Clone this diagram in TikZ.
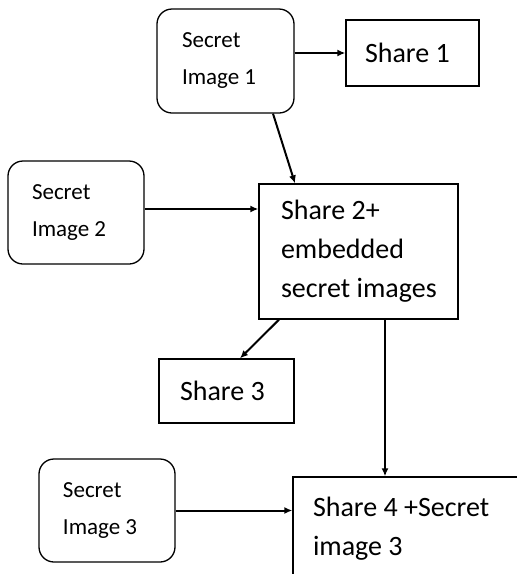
\documentclass[tikz,border=0pt]{standalone}
\usepackage{fontspec}
\setmainfont{Carlito}
\usetikzlibrary{arrows.meta}
\tikzset{
  secret/.style={draw, rounded corners=15pt, line width=1.3pt, align=flush left,
    inner sep=0pt, font=\fontsize{23}{37}\selectfont},
  share/.style={draw, line width=1.3pt, align=flush left, inner sep=0pt,
    font=\fontsize{28}{39}\selectfont},
  flow/.style={-{Latex[length=8pt,width=7pt]}, line width=2pt}
}
\begin{document}
\begin{tikzpicture}[x=1pt,y=-1pt]
  \useasboundingbox (0,0) rectangle (517,574);
  \clip (0,0) rectangle (517,574);
  \node[secret, minimum width=137pt, minimum height=104pt, text width=87pt]
    (si1) at (225.5,61) {Secret\\Image 1};
  \node[secret, minimum width=136pt, minimum height=103pt, text width=88pt]
    (si2) at (76,212.5) {Secret\\Image 2};
  \node[secret, minimum width=136pt, minimum height=103pt, text width=88pt]
    (si3) at (107,510.5) {Secret\\Image 3};
  \node[share, minimum width=133pt, minimum height=66pt, text width=95pt]
    (sh1) at (412.5,53) {Share 1};
  \node[share, minimum width=199pt, minimum height=135pt, text width=155pt]
    (sh2) at (358.5,251.5) {Share 2+\\embedded\\\mbox{secret images}};
  \node[share, minimum width=135pt, minimum height=64pt, text width=93pt]
    (sh3) at (226.5,391) {Share 3};
  \node[share, minimum width=260pt, minimum height=103pt, text width=220pt]
    (sh4) at (423,528.5) {Share 4 +Secret\\image 3};
  \begin{scope}[flow]
    \draw (si1.east |- sh1.west) to (sh1.west);
    \draw ([xshift=47.5pt]si1.south) to ([xshift=-63.5pt]sh2.north);
    \draw ([yshift=3.5pt]si2.east) to ([yshift=3.5pt]si2.east -| sh2.west);
    \draw ([xshift=-79.5pt]sh2.south) to ([xshift=13.5pt]sh3.north);
    \draw ([xshift=26.5pt]sh2.south) to ([xshift=26.5pt]sh2.south |- sh4.north);
    \draw (si3.east) to (si3.east -| sh4.west);
  \end{scope}
\end{tikzpicture}
\end{document}
